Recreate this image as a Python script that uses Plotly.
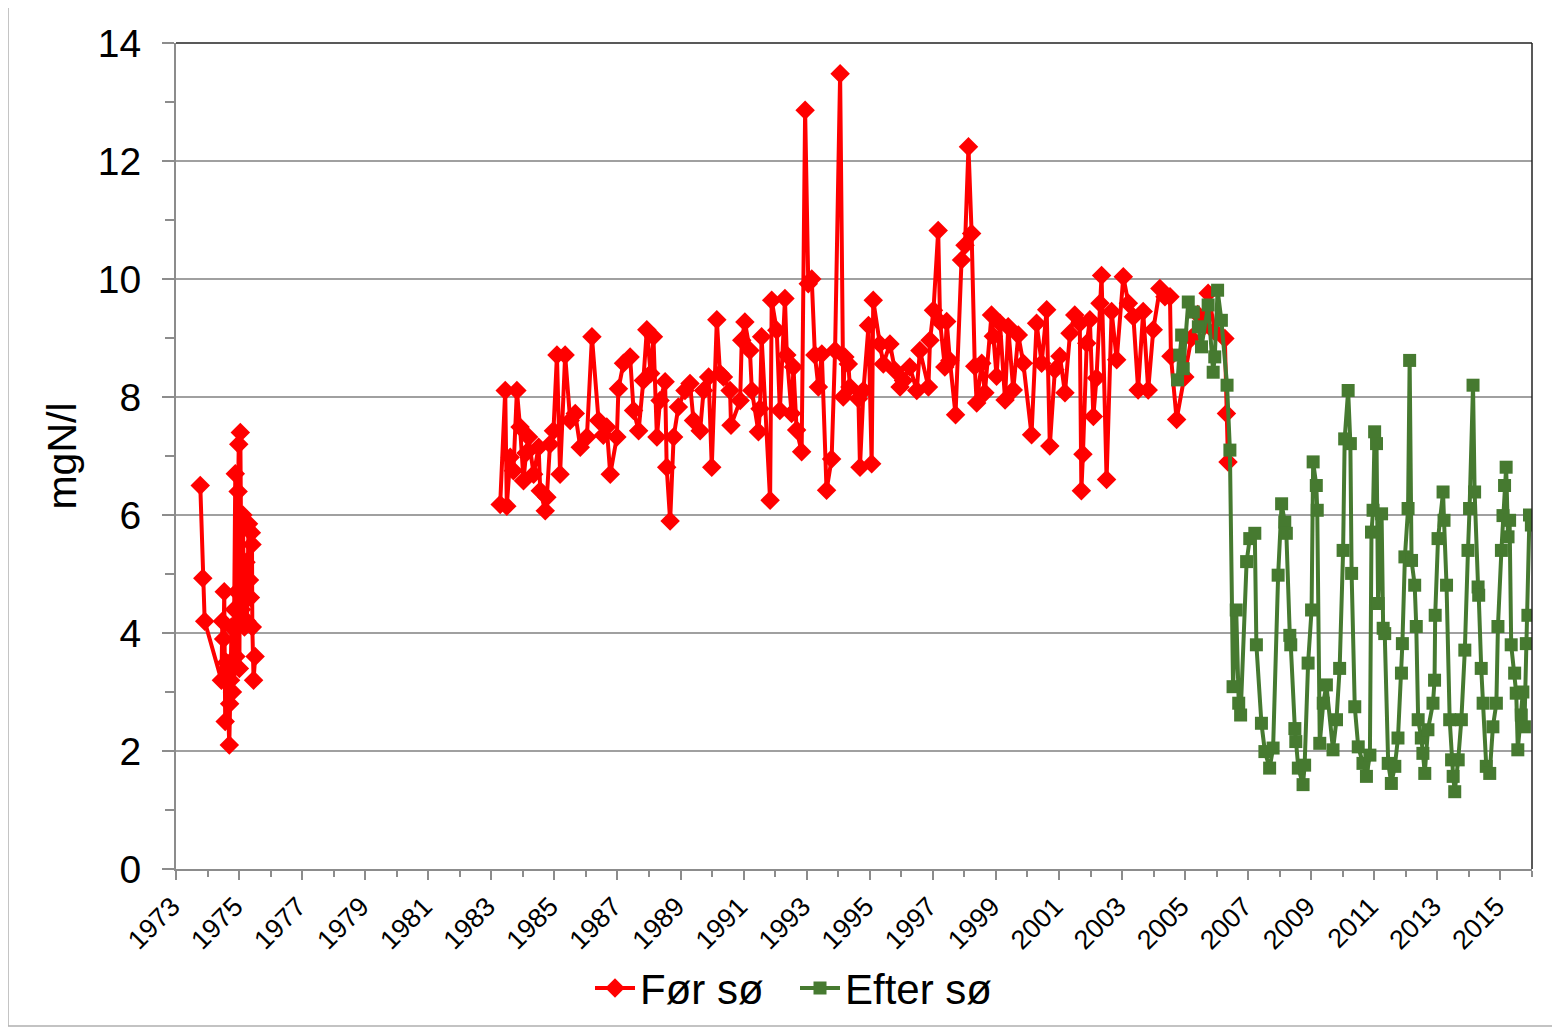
import plotly.graph_objects as go

# ---- data (decimal years, mgN/l) ----
red_year = [1973.77, 1973.85, 1973.91, 1974.44, 1974.47, 1974.51, 1974.53, 1974.56, 1974.60,
            1974.69, 1974.70, 1974.73, 1974.76, 1974.79, 1974.83, 1974.85, 1974.88, 1974.90,
            1974.93, 1974.97, 1974.99, 1975.01, 1975.04, 1975.08, 1975.12, 1975.17, 1975.22,
            1975.25, 1975.30, 1975.33, 1975.36, 1975.39, 1975.41, 1975.42, 1975.46, 1975.51,
            1979.00,
            1983.28, 1983.44, 1983.49, 1983.60, 1983.70, 1983.81, 1983.91, 1984.02, 1984.10,
            1984.18, 1984.34, 1984.50, 1984.55, 1984.71, 1984.76, 1984.86, 1984.97, 1985.08,
            1985.18, 1985.34, 1985.50, 1985.66, 1985.82, 1986.03, 1986.19, 1986.40, 1986.55,
            1986.66, 1986.77, 1986.98, 1987.03, 1987.19, 1987.40, 1987.51, 1987.67, 1987.82,
            1987.93, 1988.05, 1988.14, 1988.25, 1988.35, 1988.51, 1988.56, 1988.67, 1988.78,
            1988.93, 1989.14, 1989.30, 1989.41, 1989.62, 1989.73, 1989.89, 1989.99, 1990.15,
            1990.25, 1990.36, 1990.57, 1990.60, 1990.89, 1990.94, 1991.04, 1991.20, 1991.26,
            1991.47, 1991.52, 1991.57, 1991.84, 1991.89, 1992.05, 1992.15, 1992.31, 1992.37,
            1992.52, 1992.58, 1992.68, 1992.84, 1992.95, 1993.05, 1993.16, 1993.26, 1993.37,
            1993.48, 1993.63, 1993.79, 1993.90, 1994.06, 1994.16, 1994.21, 1994.32, 1994.37,
            1994.64, 1994.69, 1994.80, 1994.96, 1995.06, 1995.11, 1995.32, 1995.43, 1995.64,
            1995.80, 1995.96, 1996.07, 1996.27, 1996.49, 1996.59, 1996.86, 1996.91, 1997.02,
            1997.17, 1997.23, 1997.38, 1997.44, 1997.54, 1997.72, 1997.91, 1998.02, 1998.13,
            1998.23, 1998.33, 1998.39, 1998.55, 1998.65, 1998.86, 1998.92, 1999.02, 1999.13,
            1999.29, 1999.39, 1999.55, 1999.71, 1999.87, 2000.13, 2000.29, 2000.45, 2000.61,
            2000.71, 2000.87, 2001.03, 2001.19, 2001.35, 2001.50, 2001.66, 2001.71, 2001.76,
            2001.88, 2001.98, 2002.09, 2002.19, 2002.30, 2002.35, 2002.51, 2002.67, 2002.83,
            2003.04, 2003.20, 2003.36, 2003.51, 2003.67, 2003.83, 2003.99, 2004.20, 2004.36,
            2004.52, 2004.55, 2004.73, 2004.99, 2005.20, 2005.40, 2005.60, 2005.73, 2005.95,
            2006.26, 2006.31, 2006.36]
red_val = [6.5, 4.93, 4.2, 3.2, 4.2, 3.9, 4.7, 2.5, 3.5,
           2.1, 2.8, 3.2, 4.1, 3.0, 3.4, 4.4, 6.7, 3.6,
           4.7, 6.4, 7.2, 3.4, 7.4, 4.4, 6.0, 4.1, 5.2,
           4.2, 5.85, 4.9, 4.6, 5.7, 5.5, 4.1, 3.2, 3.6,
           None,
           6.18, 8.11, 6.15, 6.98, 6.75, 8.11, 7.49, 6.58, 7.05,
           7.32, 6.69, 7.15, 6.41, 6.07, 6.30, 7.20, 7.43, 8.71,
           6.69, 8.71, 7.60, 7.72, 7.15, 7.32, 9.02, 7.60, 7.35,
           7.49, 6.69, 7.32, 8.14, 8.57, 8.68, 7.77, 7.43, 8.28,
           9.14, 8.40, 9.02, 7.32, 7.94, 8.26, 6.81, 5.90, 7.32,
           7.83, 8.11, 8.23, 7.60, 7.43, 8.11, 8.34, 6.81, 9.31,
           8.40, 8.34, 8.11, 7.52, 7.94, 8.96, 9.27, 8.79, 8.11,
           7.41, 7.80, 9.02, 6.25, 9.64, 9.13, 7.77, 9.67, 8.71,
           7.72, 8.51, 7.44, 7.07, 12.86, 9.92, 10.0, 8.71, 8.17,
           8.73, 6.42, 6.95, 8.79, 13.48, 8.0, 8.68, 8.56, 8.17,
           7.97, 6.81, 8.11, 9.21, 6.87, 9.64, 8.90, 8.56, 8.90,
           8.45, 8.17, 8.28, 8.51, 8.11, 8.79, 8.17, 8.96, 9.47,
           10.82, 9.27, 8.51, 9.28, 8.62, 7.70, 10.32, 10.57, 12.24,
           10.77, 8.52, 7.90, 8.57, 8.07, 9.39, 9.03, 8.35, 9.25,
           7.95, 9.19, 8.12, 9.05, 8.57, 7.36, 9.25, 8.57, 9.48,
           7.17, 8.46, 8.69, 8.07, 9.08, 9.39, 9.25, 6.41, 7.03,
           8.91, 9.31, 7.67, 8.32, 9.59, 10.06, 6.60, 9.45, 8.63,
           10.04, 9.59, 9.36, 8.12, 9.45, 8.12, 9.14, 9.84, 9.70,
           9.70, 8.69, 7.62, 8.34, 9.00, 9.40, 9.20, 9.76, 9.10,
           8.99, 7.72, 6.90]

green_year = [2004.76, 2004.83, 2004.89, 2004.94, 2005.10, 2005.26, 2005.42, 2005.52, 2005.73,
              2005.89, 2005.94, 2006.03, 2006.15, 2006.33, 2006.42, 2006.52, 2006.62, 2006.70,
              2006.76, 2006.95, 2007.05, 2007.21, 2007.26, 2007.42, 2007.53, 2007.68, 2007.79,
              2007.95, 2008.06, 2008.16, 2008.21, 2008.32, 2008.35, 2008.48, 2008.51, 2008.59,
              2008.74, 2008.79, 2008.90, 2009.01, 2009.06, 2009.16, 2009.19, 2009.27, 2009.38,
              2009.48, 2009.69, 2009.80, 2009.90, 2010.01, 2010.06, 2010.17, 2010.24, 2010.28,
              2010.38, 2010.49, 2010.64, 2010.75, 2010.86, 2010.91, 2010.96, 2011.01, 2011.07,
              2011.12, 2011.23, 2011.28, 2011.33, 2011.44, 2011.54, 2011.65, 2011.75, 2011.86,
              2011.89, 2011.97, 2012.07, 2012.12, 2012.18, 2012.28, 2012.33, 2012.39, 2012.49,
              2012.54, 2012.60, 2012.70, 2012.86, 2012.91, 2012.93, 2013.02, 2013.18, 2013.21,
              2013.29, 2013.39, 2013.45, 2013.50, 2013.55, 2013.66, 2013.76, 2013.87, 2013.97,
              2014.02, 2014.13, 2014.18, 2014.29, 2014.31, 2014.39, 2014.45, 2014.55, 2014.66,
              2014.76, 2014.87, 2014.92, 2015.03, 2015.08, 2015.13, 2015.18, 2015.24, 2015.29,
              2015.34, 2015.45, 2015.50, 2015.55, 2015.66, 2015.71, 2015.76, 2015.82, 2015.87,
              2015.92, 2015.98]
green_val = [8.29, 8.71, 9.05, 8.48, 9.61, 9.44, 9.19, 8.85, 9.56,
             8.42, 8.68, 9.81, 9.30, 8.20, 7.10, 3.09, 4.39, 2.81,
             2.61, 5.21, 5.60, 5.69, 3.80, 2.47, 1.99, 1.71, 2.05,
             4.98, 6.19, 5.88, 5.69, 3.96, 3.80, 2.38, 2.16, 1.71,
             1.43, 1.76, 3.49, 4.39, 6.90, 6.50, 6.08, 2.13, 2.81,
             3.12, 2.02, 2.53, 3.40, 5.40, 7.29, 8.11, 7.21, 5.01,
             2.75, 2.07, 1.79, 1.57, 1.93, 5.71, 6.08, 7.41, 7.21,
             4.50, 6.02, 4.08, 3.99, 1.79, 1.45, 1.74, 2.22, 3.32,
             3.82, 5.29, 6.11, 8.62, 5.23, 4.81, 4.11, 2.53, 2.22,
             1.96, 1.62, 2.36, 2.81, 3.20, 4.30, 5.60, 6.39, 5.91,
             4.81, 2.53, 1.85, 1.57, 1.31, 1.85, 2.53, 3.71, 5.40,
             6.11, 8.20, 6.39, 4.78, 4.64, 3.40, 2.81, 1.74, 1.62,
             2.41, 2.81, 4.11, 5.40, 5.99, 6.50, 6.81, 5.63, 5.91,
             3.80, 3.32, 2.98, 2.02, 2.61, 3.00, 2.41, 3.82, 4.30,
             6.00, 5.83]

series_names = ["Før sø", "Efter sø"]
y_title = "mgN/l"

FONT = "Liberation Sans, Arial, sans-serif"
RED = "#FF0000"
GREEN = "#467A30"

fig = go.Figure()
fig.add_trace(go.Scatter(
    x=red_year, y=red_val, name=series_names[0], mode="lines+markers",
    connectgaps=False,
    line=dict(color=RED, width=4),
    marker=dict(symbol="diamond", size=15, color=RED),
))
fig.add_trace(go.Scatter(
    x=green_year, y=green_val, name=series_names[1], mode="lines+markers",
    line=dict(color=GREEN, width=4),
    marker=dict(symbol="square", size=13, color=GREEN),
))

# plot-area top/right border and outer chart border
fig.add_shape(type="line", xref="paper", yref="paper", x0=0, x1=1, y0=1, y1=1,
              line=dict(color="#222222", width=1.5), layer="above")
fig.add_shape(type="line", xref="paper", yref="paper", x0=1, x1=1, y0=0, y1=1,
              line=dict(color="#222222", width=1.5), layer="above")
fig.add_shape(type="rect", xref="paper", yref="paper",
              x0=-0.1239, x1=1.05, y0=-0.1901, y1=1.08,
              line=dict(color="#b0b0b0", width=1.5), fillcolor="rgba(0,0,0,0)")

fig.update_layout(
    width=1552, height=1021,
    margin=dict(l=168, r=28, t=35, b=160, autoexpand=False),
    paper_bgcolor="white", plot_bgcolor="white",
    font=dict(family=FONT, color="black"),
    showlegend=True,
    legend=dict(orientation="h", xref="container", yref="container",
                x=0.375, xanchor="left", y=0.04, yanchor="middle",
                font=dict(size=42, family=FONT), itemwidth=40,
                entrywidth=150,
                tracegroupgap=0, bgcolor="rgba(0,0,0,0)"),
)
fig.update_xaxes(
    range=[1973, 2016], tick0=1973, dtick=2, tickformat="d",
    tickangle=-45, tickfont=dict(size=27, family=FONT),
    ticklabelshift=-4, automargin=False,
    showgrid=False, zeroline=False,
    showline=True, linecolor="#8c8c8c", linewidth=2,
    ticks="outside", ticklen=9, tickwidth=1.5, tickcolor="#8c8c8c",
    minor=dict(dtick=1, tick0=1973, ticks="outside", ticklen=6, tickwidth=1.5,
               tickcolor="#8c8c8c", showgrid=False),
)
fig.update_yaxes(
    range=[0, 14], tick0=0, dtick=2,
    tickfont=dict(size=39, family=FONT),
    automargin=False,
    showgrid=True, gridcolor="#a0a0a0", gridwidth=2,
    zeroline=False,
    showline=True, linecolor="#8c8c8c", linewidth=2,
    ticks="outside", ticklen=12, tickwidth=1.5, tickcolor="#8c8c8c",
    ticklabelstandoff=13,
    minor=dict(dtick=1, tick0=0, ticks="outside", ticklen=9, tickwidth=1.5,
               tickcolor="#8c8c8c", showgrid=False),
    title=dict(text=y_title, font=dict(size=41, family=FONT), standoff=8),
)

fig.write_html("out.html")
